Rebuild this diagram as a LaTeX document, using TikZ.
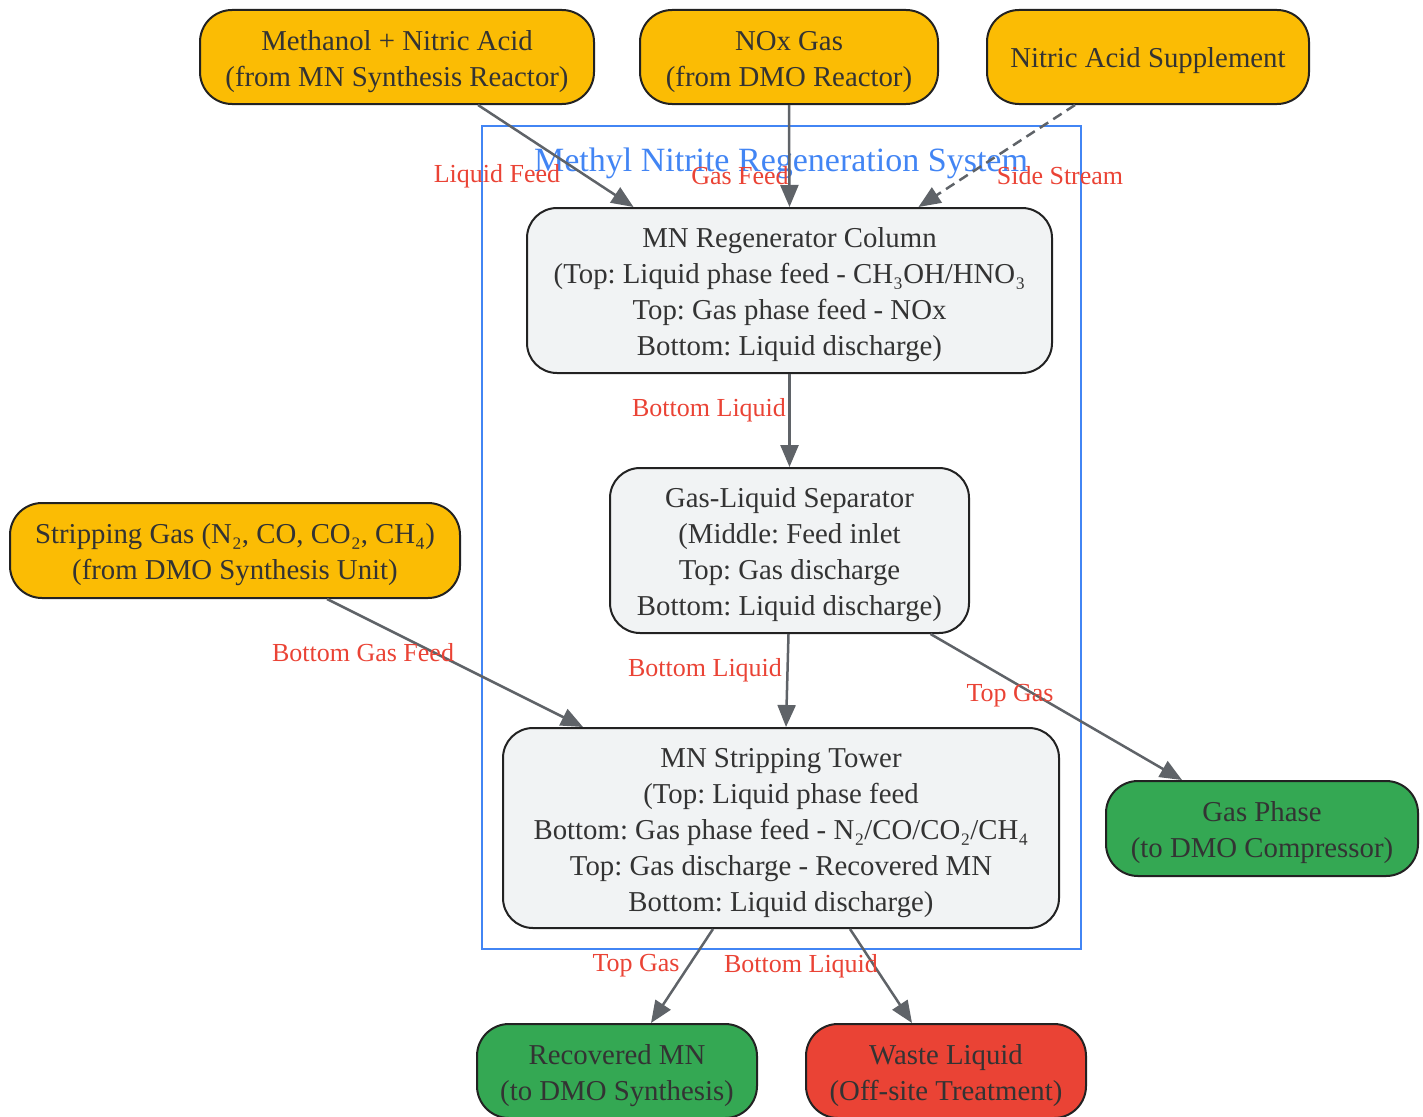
\documentclass[tikz,border=0pt]{standalone}
\usepackage{fontspec}
\setmainfont{Liberation Serif}
\frenchspacing
\usetikzlibrary{arrows.meta,positioning}
\definecolor{yel}{HTML}{FBBC04}
\definecolor{grn}{HTML}{34A853}
\definecolor{rd}{HTML}{EA4335}
\definecolor{gry}{HTML}{F1F3F4}
\definecolor{edg}{HTML}{5F6368}
\definecolor{blu}{HTML}{4285F4}
\definecolor{txt}{HTML}{333333}
\definecolor{brd}{HTML}{222222}
\newcommand\fstrut{\rule{0pt}{29pt}}
\newcommand\sstrut{\rule{0pt}{27pt}}
\tikzset{
  box/.style={draw=brd, line width=2pt, rounded corners=32pt, align=center, text=txt,
    font=\fontsize{28.8}{36}\selectfont, inner sep=0pt},
  srcbox/.style={box, fill=yel},
  procbox/.style={box, fill=gry, rounded corners=30pt},
  okbox/.style={box, fill=grn},
  badbox/.style={box, fill=rd},
  arr/.style={draw=edg, line width=2.5pt, -{Triangle[length=22pt,width=18pt]}},
  lbl/.style={text=rd, font=\fontsize{26}{30}\selectfont, inner sep=0pt},
}
\begin{document}
\begin{tikzpicture}[x=1pt,y=-1pt]
\useasboundingbox (0,0) rectangle (1423,1116);
% cluster
\draw[draw=blu, line width=2pt] (482,126) rectangle (1081,949);
\node[text=blu, font=\fontsize{34}{40}\selectfont, inner sep=0pt] (title) at (781,163) {Methyl Nitrite Regeneration System};
% sources
\node[srcbox, minimum width=394pt, minimum height=94pt] (meth) at (397,57) {\fstrut Methanol + Nitric Acid\\(from MN Synthesis Reactor)};
\node[srcbox, minimum width=298pt, minimum height=94pt] (nox) at (789,57) {\fstrut NOx Gas\\(from DMO Reactor)};
\node[srcbox, minimum width=322pt, minimum height=94pt] (nit) at (1148,57) {\sstrut Nitric Acid Supplement};
\node[srcbox, minimum width=450pt, minimum height=95pt] (strip) at (235,550.5) {\fstrut Stripping Gas (N₂, CO, CO₂, CH₄)\\(from DMO Synthesis Unit)};
% process
\node[procbox, minimum width=525pt, minimum height=165pt] (regen) at (789.5,290.5) {\fstrut MN Regenerator Column\\(Top: Liquid phase feed - CH₃OH/HNO₃\\Top: Gas phase feed - NOx\\Bottom: Liquid discharge)};
\node[procbox, minimum width=359pt, minimum height=165pt] (sep) at (789.5,550.5) {\fstrut Gas-Liquid Separator\\(Middle: Feed inlet\\Top: Gas discharge\\Bottom: Liquid discharge)};
\node[procbox, minimum width=556pt, minimum height=200pt] (tower) at (781,828) {\fstrut MN Stripping Tower\\(Top: Liquid phase feed\\Bottom: Gas phase feed - N₂/CO/CO₂/CH₄\\Top: Gas discharge - Recovered MN\\Bottom: Liquid discharge)};
% outputs
\node[okbox, minimum width=312pt, minimum height=95pt] (gas) at (1262,828.5) {\fstrut Gas Phase\\(to DMO Compressor)};
\node[okbox, minimum width=280pt, minimum height=94pt] (rec) at (617,1071) {\fstrut Recovered MN\\(to DMO Synthesis)};
\node[badbox, minimum width=280pt, minimum height=94pt] (waste) at (946,1071) {\fstrut Waste Liquid\\(Off-site Treatment)};
% edges
\draw[arr] ([xshift=81pt]meth.south) -- ([xshift=-156pt]regen.north) node[lbl] at (497,176) {Liquid Feed};
\draw[arr] (nox.south) -- (regen.north) node[lbl] at (740,176) {Gas Feed};
\draw[arr, dashed, dash pattern=on 10pt off 6pt] ([xshift=-73pt]nit.south) -- ([xshift=129pt]regen.north) node[lbl] at (1060,176) {Side Stream};
\draw[arr] (regen.south) -- (sep.north) node[lbl] at (709,410) {Bottom Liquid};
\draw[arr] ([xshift=-1pt]sep.south) -- ([xshift=5pt]tower.north) node[lbl] at (705,670) {Bottom Liquid};
\draw[arr] ([xshift=92pt]strip.south) -- ([xshift=-198pt]tower.north) node[lbl] at (363,653) {Bottom Gas Feed};
\draw[arr] ([xshift=141pt]sep.south) -- ([xshift=-80pt]gas.north) node[lbl] at (1010,696) {Top Gas};
\draw[arr] ([xshift=-68pt]tower.south) -- ([xshift=34pt]rec.north) node[lbl] at (636,966) {Top Gas};
\draw[arr] ([xshift=69pt]tower.south) -- ([xshift=-34pt]waste.north) node[lbl] at (801,966) {Bottom Liquid};
\end{tikzpicture}
\end{document}
